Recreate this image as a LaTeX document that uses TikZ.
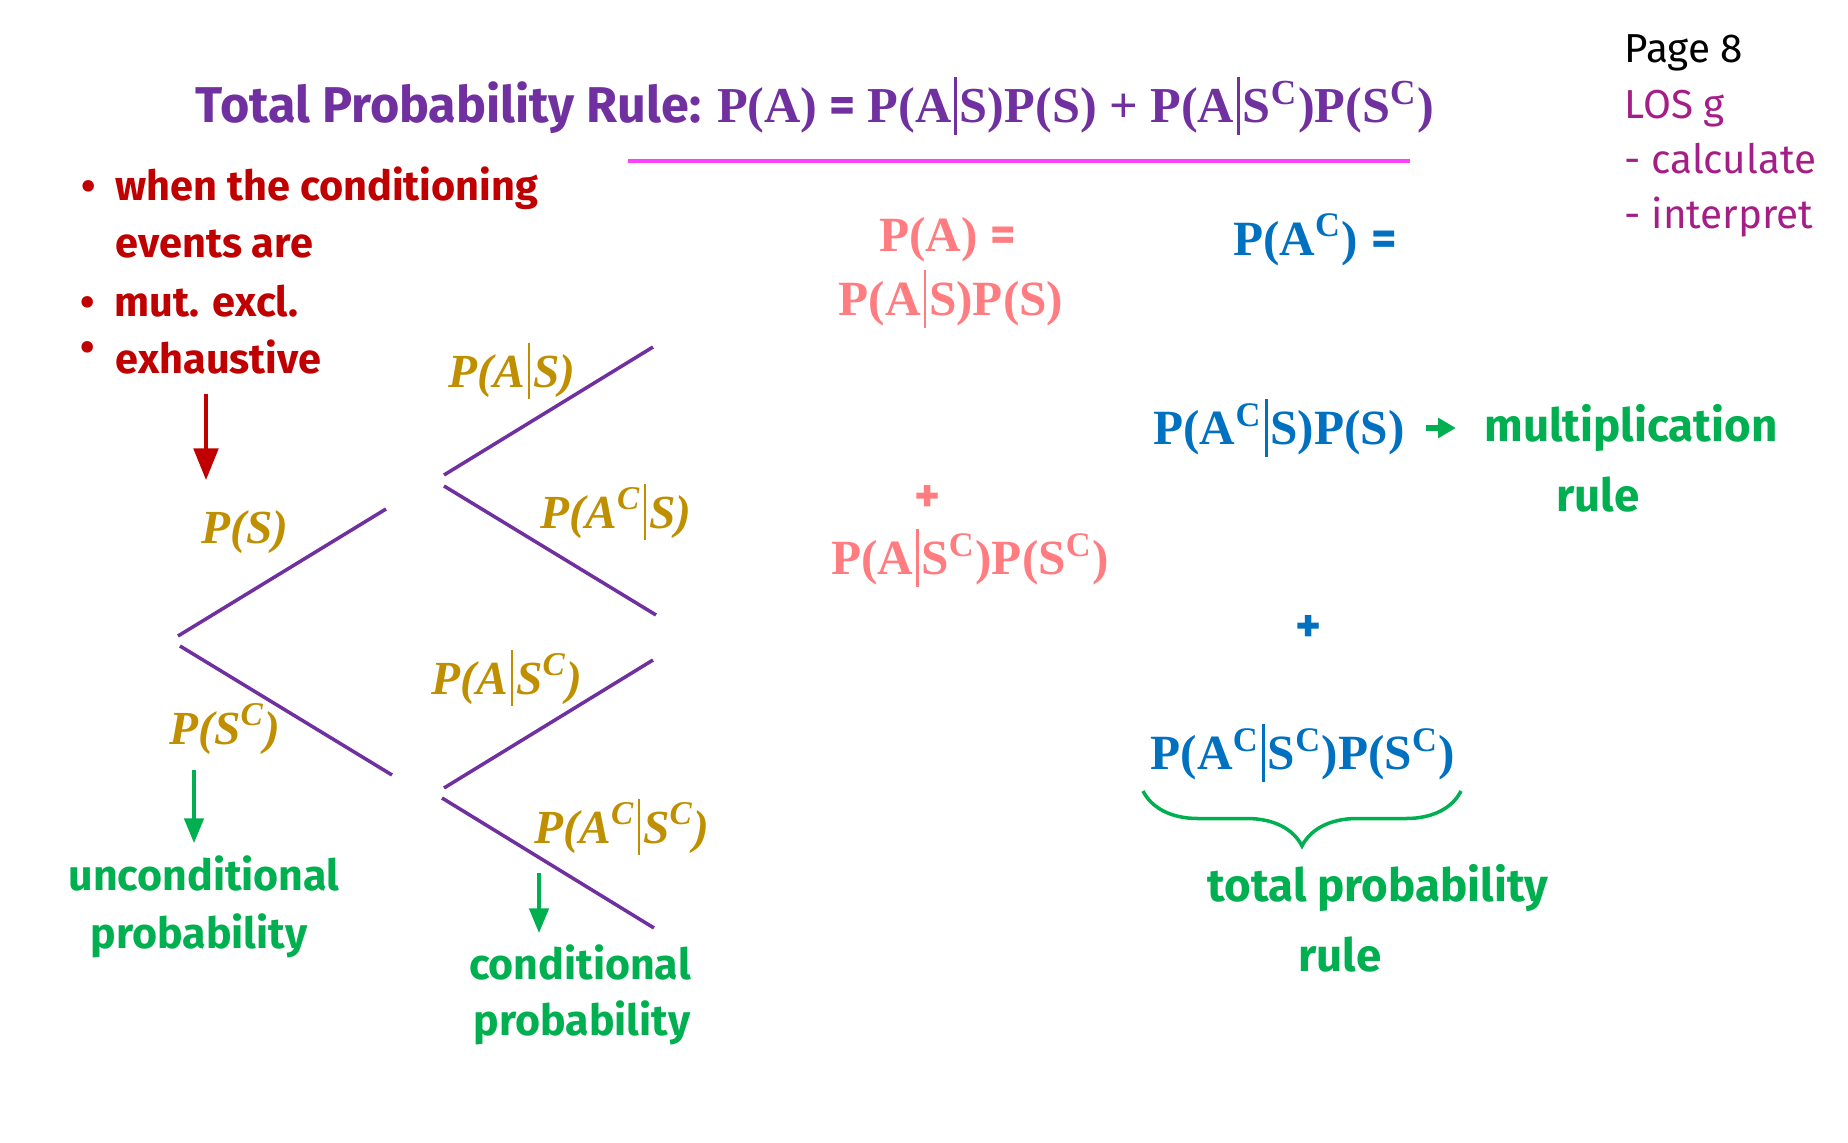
\documentclass[tikz,border=0pt]{standalone}
\usepackage{fontspec}
\setmainfont{Fira Sans}
\newfontfamily\formfont{Liberation Serif}
\usetikzlibrary{arrows.meta,decorations.pathreplacing}
\definecolor{tprpurple}{RGB}{112,48,160}
\definecolor{tprmagenta}{RGB}{255,64,255}
\definecolor{tprred}{RGB}{192,0,0}
\definecolor{tprgold}{RGB}{191,143,0}
\definecolor{tprgreen}{RGB}{0,176,80}
\definecolor{tprsalmon}{RGB}{255,124,128}
\definecolor{tprblue}{RGB}{0,112,192}
\definecolor{tproslos}{RGB}{165,30,135}
\newcommand{\fm}[1]{{\formfont\bfseries #1}}
\newcommand{\gm}[1]{{\formfont\bfseries\itshape #1}}
\newcommand{\compl}{\textsuperscript{C}}
\newcommand{\given}{\hspace{0.06em}\rule[-0.24em]{0.05em}{1.16em}\hspace{0.06em}}
\tikzset{
  note/.style={font=\bfseries\fontsize{11.8}{14}\selectfont, inner sep=0pt},
  greennote/.style={note, text=tprgreen, font=\bfseries\fontsize{13}{15}\selectfont},
  corner/.style={anchor=base west, inner sep=0pt, font=\fontsize{11.5}{14}\selectfont},
  formula/.style={font=\fontsize{14}{16}\selectfont, inner sep=0pt},
  branch/.style={tprpurple, line width=1pt},
  glabel/.style={formula, text=tprgold, font=\fontsize{13.5}{16}\selectfont},
}

\begin{document}
\begin{tikzpicture}[x=0.01cm, y=-0.01cm]
\useasboundingbox (0,0) rectangle (1848,1143);

% Title
\node[anchor=base west, inner sep=0pt, text=tprpurple, font=\bfseries\fontsize{14.3}{16}\selectfont] (title) at (195,123)
  {Total Probability Rule: \fm{P(A)} = \fm{P(A\given S)P(S) + P(A\given S\compl)P(S\compl)}};
\coordinate (ulstart) at (628,161);
\coordinate (ulend) at (1410,161);
\draw[tprmagenta, line width=1.2pt] (ulstart) -- (ulend);

% Page corner
\node[corner] (page) at (1624,63) {Page 8};
\node[corner, text=tproslos] (los) at (1624,119) {LOS g};
\node[corner, text=tproslos] (calc) at (1624,174) {- calculate};
\node[corner, text=tproslos] (interp) at (1624,229) {- interpret};

% Conditions
\node[note, text=tprred, anchor=base] (dot1) at (89,201) {•};
\node[note, text=tprred, anchor=base west] (cond1) at (115,201) {when the conditioning};
\node[note, text=tprred, anchor=base west] (cond2) at (115,258) {events are};
\node[note, text=tprred, anchor=base] (dot2) at (88,317) {•};
\node[note, text=tprred, anchor=base west] (cond3) at (114,317) {mut. excl.};
\node[note, text=tprred, anchor=base] (dot3) at (88,362) {•};
\node[note, text=tprred, anchor=base west] (cond4) at (115,374) {exhaustive};
\coordinate (redtop) at (206,394);
\coordinate (redtip) at (206,480);
\draw[tprred, line width=1pt, -{Triangle[length=9pt,width=7pt]}] (redtop) -- (redtip);

% Tree branches
\coordinate (s0) at (178,636);   \coordinate (s1) at (386,509);
\coordinate (c0) at (180,646);   \coordinate (c1) at (392,775);
\coordinate (as0) at (444,475);  \coordinate (as1) at (653,347);
\coordinate (ns0) at (444,486);  \coordinate (ns1) at (656,615);
\coordinate (ac0) at (444,788);  \coordinate (ac1) at (653,660);
\coordinate (nc0) at (442,798);  \coordinate (nc1) at (654,928);
\draw[branch] (s0) -- (s1);
\draw[branch] (c0) -- (c1);
\draw[branch] (as0) -- (as1);
\draw[branch] (ns0) -- (ns1);
\draw[branch] (ac0) -- (ac1);
\draw[branch] (nc0) -- (nc1);

% Branch labels
\node[glabel] (ps) at (245,532) {\gm{P(S)}};
\node[glabel] (psc) at (225,729) {\gm{P(S\compl)}};
\node[glabel] (pas) at (512,371) {\gm{P(A\given S)}};
\node[glabel] (pacs) at (616,512) {\gm{P(A\compl\given S)}};
\node[glabel] (pasc) at (507,678) {\gm{P(A\given S\compl)}};
\node[glabel] (pacsc) at (622,827) {\gm{P(A\compl\given S\compl)}};

% Kinds of probability
\coordinate (uncfrom) at (194,770);
\coordinate (uncto) at (194,843);
\draw[tprgreen, line width=1pt, -{Triangle[length=7pt,width=5.5pt]}] (uncfrom) -- (uncto);
\node[greennote, font=\bfseries\fontsize{12.2}{15}\selectfont] (unc1) at (204,873) {unconditional};
\node[greennote, font=\bfseries\fontsize{12.2}{15}\selectfont] (unc2) at (199,936) {probability};
\coordinate (confrom) at (539,873);
\coordinate (conto) at (539,933);
\draw[tprgreen, line width=1pt, -{Triangle[length=7pt,width=5.5pt]}] (confrom) -- (conto);
\node[greennote, font=\bfseries\fontsize{12.2}{15}\selectfont] (con1) at (580,962) {conditional};
\node[greennote, font=\bfseries\fontsize{12.2}{15}\selectfont] (con2) at (582,1023) {probability};

% P(A)
\node[formula, text=tprsalmon] (pa) at (948,240) {\fm{P(A)} \textbf{=}};
\node[formula, text=tprsalmon] (pa1) at (951,299) {\fm{P(A\given S)P(S)}};
\node[formula, text=tprsalmon] (paplus) at (928,499) {\textbf{+}};
\node[formula, text=tprsalmon] (pa2) at (970,558) {\fm{P(A\given S\compl)P(S\compl)}};

% P(A^C)
\node[formula, text=tprblue] (pac) at (1315,240) {\fm{P(A\compl)} \textbf{=}};
\node[formula, text=tprblue] (pac1) at (1279,428) {\fm{P(A\compl\given S)P(S)}};
\node[formula, text=tprblue] (pacplus) at (1309,629) {\textbf{+}};
\node[formula, text=tprblue] (pac2) at (1303,753) {\fm{P(A\compl\given S\compl)P(S\compl)}};

\node[greennote] (mult1) at (1631,428) {multiplication};
\node[greennote] (mult2) at (1598,495) {rule};
\draw[tprgreen, line width=1.8pt, -{Triangle[length=5pt,width=5.5pt]}, shorten <=6pt, shorten >=8pt] (pac1.east) -- (mult1.west);

% Brace
\coordinate (brl) at (1143,791);
\coordinate (brr) at (1461,791);
\draw[tprgreen, line width=1pt, decorate, decoration={brace, mirror, amplitude=0.55cm}] (brl) -- (brr);
\node[greennote] (tot1) at (1378,888) {total probability};
\node[greennote] (tot2) at (1340,955) {rule};
\end{tikzpicture}
\end{document}
